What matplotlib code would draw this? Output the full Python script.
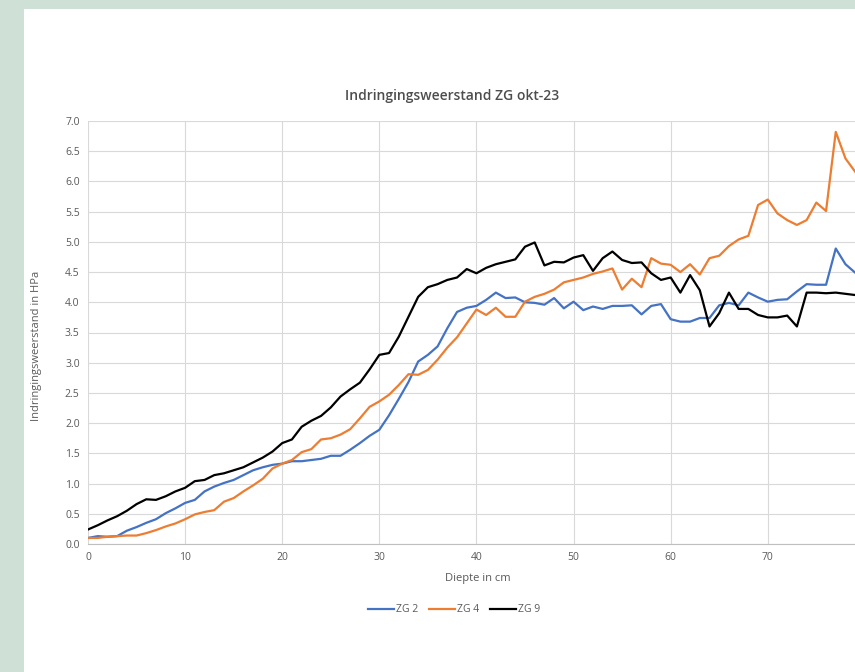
import matplotlib.pyplot as plt

diepte = list(range(80))

zg2 = [0.10, 0.13, 0.12, 0.13, 0.22, 0.28, 0.35, 0.41, 0.51, 0.59,
       0.68, 0.73, 0.87, 0.95, 1.01, 1.06, 1.14, 1.22, 1.27, 1.31,
       1.33, 1.37, 1.37, 1.39, 1.41, 1.46, 1.46, 1.56, 1.67, 1.79,
       1.89, 2.13, 2.40, 2.68, 3.02, 3.13, 3.27, 3.57, 3.84, 3.91,
       3.94, 4.04, 4.16, 4.07, 4.08, 4.00, 3.99, 3.96, 4.07, 3.90,
       4.01, 3.87, 3.93, 3.89, 3.94, 3.94, 3.95, 3.80, 3.94, 3.97,
       3.72, 3.68, 3.68, 3.74, 3.74, 3.95, 3.99, 3.95, 4.16, 4.08,
       4.01, 4.04, 4.05, 4.18, 4.30, 4.29, 4.29, 4.89, 4.63, 4.49]

zg4 = [0.10, 0.10, 0.12, 0.13, 0.14, 0.14, 0.18, 0.23, 0.29, 0.34,
       0.41, 0.49, 0.53, 0.56, 0.70, 0.76, 0.87, 0.97, 1.08, 1.25,
       1.33, 1.39, 1.52, 1.57, 1.73, 1.75, 1.81, 1.90, 2.08, 2.27,
       2.36, 2.47, 2.63, 2.81, 2.80, 2.88, 3.05, 3.25, 3.42, 3.65,
       3.88, 3.79, 3.91, 3.76, 3.76, 4.01, 4.09, 4.14, 4.21, 4.33,
       4.37, 4.41, 4.47, 4.51, 4.56, 4.21, 4.39, 4.25, 4.73, 4.64,
       4.62, 4.50, 4.63, 4.46, 4.73, 4.77, 4.93, 5.04, 5.10, 5.61,
       5.70, 5.47, 5.36, 5.28, 5.36, 5.65, 5.51, 6.82, 6.38, 6.16]

zg9 = [0.24, 0.31, 0.39, 0.46, 0.55, 0.66, 0.74, 0.73, 0.79, 0.87,
       0.93, 1.04, 1.06, 1.14, 1.17, 1.22, 1.27, 1.35, 1.43, 1.53,
       1.67, 1.73, 1.94, 2.04, 2.12, 2.26, 2.44, 2.56, 2.67, 2.89,
       3.13, 3.16, 3.43, 3.76, 4.09, 4.25, 4.30, 4.37, 4.41, 4.55,
       4.48, 4.57, 4.63, 4.67, 4.71, 4.92, 4.99, 4.61, 4.67, 4.66,
       4.74, 4.78, 4.52, 4.73, 4.84, 4.70, 4.65, 4.66, 4.48, 4.37,
       4.41, 4.16, 4.45, 4.20, 3.60, 3.82, 4.16, 3.89, 3.89, 3.79,
       3.75, 3.75, 3.78, 3.60, 4.16, 4.16, 4.15, 4.16, 4.14, 4.12]

x_ticks = [0, 10, 20, 30, 40, 50, 60, 70, 80, 90]
x_labels = ['0', '10', '20', '30', '40', '50', '60', '70', '', '']

plt.rcParams['font.family'] = ['Open Sans', 'DejaVu Sans']
tekst = '#595959'

fig = plt.figure(figsize=(8.55, 6.72), dpi=100)
fig.patch.set_facecolor('#cfe1d6')

# witte kaart achter de grafiek
kaart = fig.add_axes([24 / 855, 0, 1 - 24 / 855, 1 - 9 / 672], zorder=-1)
kaart.set_facecolor('white')
kaart.set_xticks([])
kaart.set_yticks([])
for s in kaart.spines.values():
    s.set_visible(False)

ax = fig.add_axes([88 / 855, 128 / 672, 874 / 855, 423 / 672])
ax.set_facecolor('none')
ax.plot(diepte, zg2, color='#4472C4', lw=1.6, label='ZG 2')
ax.plot(diepte, zg4, color='#ED7D31', lw=1.6, label='ZG 4')
ax.plot(diepte, zg9, color='#000000', lw=1.6, label='ZG 9')

ax.set_xlim(0, 90)
ax.set_ylim(0, 7.0)
ax.set_xticks(x_ticks)
ax.set_xticklabels(x_labels)
ax.set_yticks([i * 0.5 for i in range(15)])
ax.set_yticklabels([f'{i * 0.5:.1f}' for i in range(15)])
ax.grid(True, color='#d9d9d9', lw=0.8)
ax.set_axisbelow(True)
for s in ['top', 'right', 'left']:
    ax.spines[s].set_visible(False)
ax.spines['bottom'].set_color('#bfbfbf')
ax.tick_params(length=0, labelsize=7.5, colors=tekst, pad=6)

fig.text(478 / 855, 1 - 578 / 672, 'Diepte in cm', ha='center', va='center',
         fontsize=8, color=tekst)
fig.text(37 / 855, 1 - 346 / 672, 'Indringingsweerstand in HPa', rotation=90,
         ha='center', va='center', fontsize=8, color=tekst)
fig.text(452 / 855, 1 - 96 / 672, 'Indringingsweerstand ZG okt-23', ha='center',
         va='center', fontsize=10, fontweight='semibold', color='#4d4d4d')

fig.legend(loc='center', bbox_to_anchor=(454 / 855, 1 - 610 / 672), ncol=3,
           frameon=False, fontsize=7.5, handlelength=2.5, handletextpad=0.2,
           columnspacing=1.0, labelcolor=tekst)

fig.savefig('out.png', dpi=100)
